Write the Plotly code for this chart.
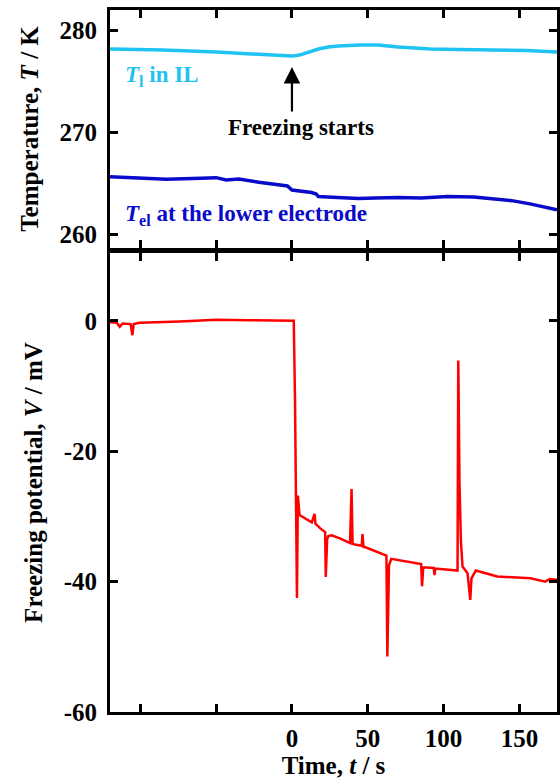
import plotly.graph_objects as go
from plotly.subplots import make_subplots

# ---- data ----
t_liquid = [-120, -85, -50, -24, 0, 5, 9, 13, 17.5, 24, 30.6, 45, 56.8, 70, 80, 91.5, 110, 135.4, 155, 174.8]
T_liquid = [278.2, 278.1, 277.9, 277.65, 277.5, 277.6, 277.8, 278.0, 278.2, 278.4, 278.5, 278.6, 278.6, 278.4, 278.3, 278.2, 278.15, 278.1, 278.05, 277.9]

t_electrode = [-120, -100, -82.8, -60, -50, -43.4, -35, -21.8, -8.7, -3, 0, 6, 12.9, 16, 17.5, 30, 43.7, 55, 69.9, 85, 102.7, 120, 135.4, 145, 157, 166, 174.8]
T_electrode = [265.66, 265.55, 265.4, 265.5, 265.56, 265.33, 265.43, 265.1, 264.9, 264.75, 264.35, 264.25, 264.1, 263.95, 263.7, 263.6, 263.5, 263.55, 263.6, 263.55, 263.7, 263.65, 263.47, 263.3, 262.98, 262.7, 262.4]

t_potential = [-120, -115.5, -113.6, -111.6, -106.4, -105.2, -104.4, -100.5, -74, -50, -28, 0.5,
               1.2, 2.0, 3.3, 3.9, 4.4, 5.0, 8.0, 13.1, 14.9, 15.5, 18.5, 21.9, 22.3, 23.2, 24.0, 26.2,
               32.0, 38.3, 39.3, 40.0, 41.5, 46.0, 46.5, 47.2, 48.1, 55.0, 62.3, 62.9, 64.0, 65.5,
               75.0, 85.2, 85.8, 86.6, 93.5, 94.0, 94.6, 108.1, 109.2, 109.7, 110.5, 111.4, 112.5,
               115.8, 117.6, 118.4, 121.2, 135.4, 157.3, 167.1, 170.0, 174.8]
V_potential = [-0.2, -0.3, -0.9, -0.4, -0.5, -2.2, -0.5, -0.3, -0.1, 0.15, 0.1, 0.0,
               0.0, -12.0, -42.5, -26.8, -29.0, -29.8, -30.2, -30.9, -29.6, -31.1, -31.8, -32.4, -39.3, -33.5, -33.0, -32.9,
               -33.4, -34.1, -25.8, -34.2, -34.3, -34.5, -32.7, -34.7, -34.7, -35.3, -36.0, -51.5, -37.5, -36.5,
               -36.9, -37.3, -40.7, -37.8, -37.9, -39.0, -38.0, -38.3, -38.3, -6.1, -25.0, -33.7, -37.7,
               -38.7, -42.8, -39.5, -38.3, -39.2, -39.5, -40.0, -39.6, -39.7]

x_tickvals = [0, 50, 100, 150]
x_minorvals = [-100, -50]
temp_tickvals = [260, 270, 280]
pot_tickvals = [-60, -40, -20, 0]
pot_ticktext = ["-60", "-40", "-20", "0"]

CYAN = "#1FC3F2"
BLUE = "#0A0ACB"
RED = "#FF0000"
FONT = "Liberation Serif"

fig = make_subplots(rows=2, cols=1, shared_xaxes=False, vertical_spacing=0.0)

fig.add_trace(go.Scatter(x=t_liquid, y=T_liquid, mode="lines",
                         line=dict(color=CYAN, width=3.5), showlegend=False), row=1, col=1)
fig.add_trace(go.Scatter(x=t_electrode, y=T_electrode, mode="lines",
                         line=dict(color=BLUE, width=3.5), showlegend=False), row=1, col=1)
fig.add_trace(go.Scatter(x=t_potential, y=V_potential, mode="lines",
                         line=dict(color=RED, width=2.5), showlegend=False), row=2, col=1)

axis_common = dict(showline=True, linecolor="black", linewidth=3, mirror="ticks",
                   ticks="inside", ticklen=8, tickwidth=2.5, tickcolor="black",
                   showgrid=False, zeroline=False)
tickfont = dict(family=FONT, size=25, color="black", weight="bold")
titlefont = dict(family=FONT, size=25, color="black", weight="bold")

fig.update_xaxes(range=[-120, 174.8], tickvals=x_tickvals,
                 minor=dict(tickvals=x_minorvals, ticks="inside", ticklen=8, tickwidth=2.5, tickcolor="black"),
                 **axis_common)
fig.update_xaxes(showticklabels=False, domain=[0, 1], row=1, col=1)
fig.update_xaxes(domain=[0, 1], row=2, col=1, tickfont=tickfont, ticklabelstandoff=2,
                 title=dict(text="Time, <i>t</i> / s", standoff=0, font=titlefont))

fig.update_yaxes(**axis_common)
fig.update_yaxes(row=1, col=1, domain=[0.661, 1.0], range=[258.65, 282.03], tickvals=temp_tickvals,
                 tickfont=tickfont, ticklabelstandoff=5,
                 title=dict(text="Temperature, <i>T</i> / K", standoff=14, font=titlefont))
fig.update_yaxes(row=2, col=1, domain=[0.0, 0.6538], range=[-60, 10.4], tickvals=pot_tickvals,
                 ticktext=pot_ticktext, tickfont=tickfont, ticklabelstandoff=5,
                 title=dict(text="Freezing potential, <i>V</i> / mV", standoff=14, font=titlefont))

fig.add_annotation(x=-111.3, y=275.55, xref="x", yref="y", text="<i>T</i><sub>l</sub> in IL",
                   showarrow=False, xanchor="left", yanchor="middle",
                   font=dict(family=FONT, size=23, color=CYAN, weight="bold"))
fig.add_annotation(x=-111.3, y=261.9, xref="x", yref="y", text="<i>T</i><sub>el</sub> at the lower electrode",
                   showarrow=False, xanchor="left", yanchor="middle",
                   font=dict(family=FONT, size=23, color=BLUE, weight="bold"))
fig.add_annotation(x=5.7, y=270.44, xref="x", yref="y", text="Freezing starts",
                   showarrow=False, xanchor="center", yanchor="middle",
                   font=dict(family=FONT, size=23, color="black", weight="bold"))
fig.add_annotation(x=0, y=276.43, xref="x", yref="y", ax=0, ay=271.9, axref="x", ayref="y",
                   text="", showarrow=True, arrowhead=2, arrowsize=1.5, arrowwidth=2.2,
                   arrowcolor="black", standoff=0, startstandoff=0)

fig.update_layout(width=560, height=783, margin=dict(l=110, r=0, t=10, b=71),
                  paper_bgcolor="white", plot_bgcolor="white",
                  font=dict(family=FONT, color="black"))

fig.write_html("out.html")
